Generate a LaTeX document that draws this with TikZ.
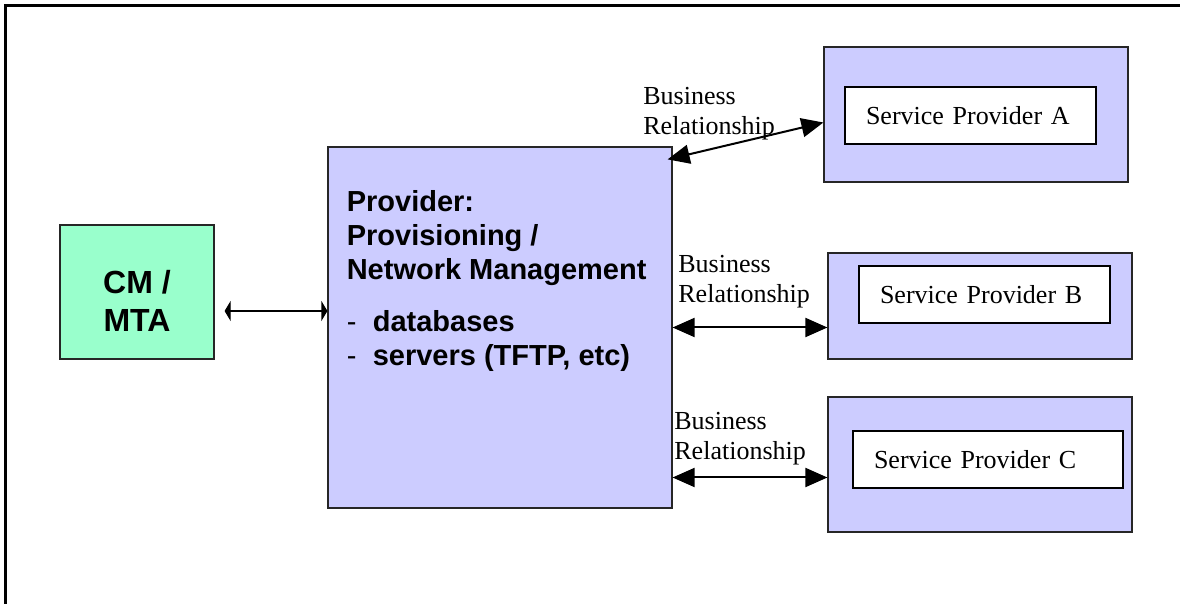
\documentclass[tikz,border=0pt]{standalone}
\usepackage{fontspec}
\setmainfont{Liberation Serif}
\setsansfont{Liberation Sans}
\usetikzlibrary{arrows.meta,positioning,calc}

\newlength{\du}
\setlength{\du}{0.5pt}

\definecolor{cmgreen}{rgb}{0.600000, 1.000000, 0.800000}
\definecolor{provblue}{rgb}{0.800000, 0.800000, 1.000000}

\tikzset{
  outerframe/.style={draw=black, line width=1.5pt},
  cmbox/.style={draw=black!85, fill=cmgreen, line width=0.6pt, minimum width=154\du, minimum height=134\du},
  cmtext/.style={inner sep=0pt, align=center, font=\fontsize{16}{19}\selectfont\sffamily\bfseries},
  provbox/.style={draw=black!85, fill=provblue, line width=0.6pt, minimum width=344\du, minimum height=361\du},
  provtext/.style={inner sep=0pt, align=left, font=\fontsize{14.5}{17}\selectfont\sffamily\bfseries},
  spouter/.style={draw=black!85, fill=provblue, line width=0.6pt, minimum width=304\du},
  spinner/.style={draw=black, fill=white, line width=1pt, inner xsep=10.5pt, inner ysep=0pt,
    minimum height=57\du, align=left, font=\fontsize{13}{15}\selectfont},
  reltext/.style={inner sep=0pt, align=left, font=\fontsize{13}{15}\selectfont},
  bizarrow/.style={{Triangle[length=11pt,width=9.5pt]}-{Triangle[length=11pt,width=9.5pt]}, line width=1pt},
  cmarrow/.style={{Triangle[length=3pt,width=10pt]}-{Triangle[length=3pt,width=10pt]}, line width=0.6pt}
}

\newcommand{\bulletdash}{\makebox[13pt][l]{\mdseries -}}

\begin{document}
\begin{tikzpicture}[x=\du, y=-\du]
\useasboundingbox (0,0) rectangle (1180,604);
% frame, only top and left edge show
\draw[outerframe] (5,604) -- (5,6) -- (1180,6);

% left and middle boxes
\node[cmbox] (cm) at (137,292) {};
\node[cmtext] (cmText) at ([yshift=-4.5pt]cm.center) {CM /\\MTA};
\node[provbox] (prov) at (500,327.5) {};
\node[provtext, anchor=north west] (provText) at ([xshift=9.5pt,yshift=-22pt]prov.north west)
  {Provider:\\Provisioning /\\Network Management\\[9pt]\bulletdash databases\\\bulletdash servers (TFTP, etc)};

% service providers
\node[spouter, minimum height=135\du] (spA) at (976,114.5) {};
\node[spinner, text width=209\du] (spInA) at (970.5,115.5) {Service Provider A};
\node[spouter, minimum height=106\du] (spB) at (980,306) {};
\node[spinner, text width=209\du] (spInB) at (984.5,295) {Service Provider B};
\node[spouter, minimum height=135\du] (spC) at (980,464.5) {};
\node[spinner, text width=228\du] (spInC) at (988,459.5) {Service Provider C};

% labels
\node[reltext, anchor=north west] (relA) at (643,87) {Business\\Relationship};
\node[reltext, anchor=north west] (relB) at (678,255) {Business\\Relationship};
\node[reltext, anchor=north west] (relC) at (674,412) {Business\\Relationship};

% connectors
\coordinate (cmEnd) at ([yshift=-9.5pt]cm.east);
\draw[cmarrow] ([xshift=5pt]cmEnd) -- (cmEnd -| prov.west);
\draw[bizarrow] ([xshift=-2.5pt,yshift=-6.5pt]prov.north east) -- ([yshift=-4pt]spA.west);
\draw[bizarrow] (prov.east) -- (prov.east -| spB.west);
\coordinate (cEnd) at ([yshift=-6.5pt]spC.west);
\draw[bizarrow] (cEnd -| prov.east) -- (cEnd);
\end{tikzpicture}
\end{document}
